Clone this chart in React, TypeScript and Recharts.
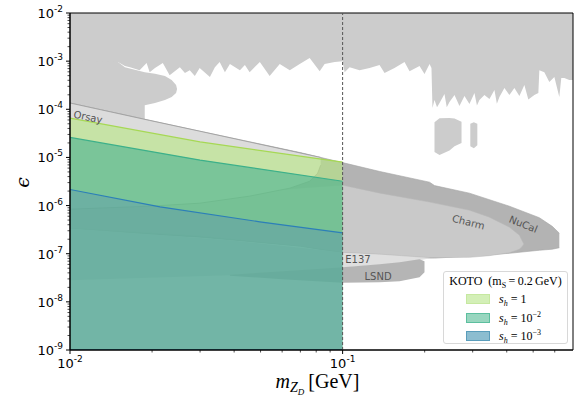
import React from "react";
import {
  ComposedChart,
  Area,
  XAxis,
  YAxis,
  ReferenceLine,
  ReferenceArea,
  ReferenceDot,
  Legend,
} from "recharts";

const X_MIN = 0.01;
const X_MAX = 0.7;
const Y_MIN = 1e-9;
const Y_MAX = 1e-2;

// lower edge of the big exclusion region at the top: [mass GeV, epsilon]
const upperEdge: number[][] = [
  [0.01, 9.1e-4], [0.015, 9.6e-4], [0.0159, 7.9e-4], [0.0166, 7.5e-4], [0.018, 6.5e-4],
  [0.0191, 9.1e-4], [0.0196, 5.9e-4], [0.0205, 7.2e-4], [0.0219, 9.1e-4], [0.0232, 5.1e-4],
  [0.0253, 7.5e-4], [0.0264, 5.65e-4], [0.0275, 6.5e-4], [0.0287, 4.9e-4], [0.0299, 7.2e-4],
  [0.0326, 4.67e-4], [0.034, 7.5e-4], [0.0354, 9.6e-4], [0.037, 5.9e-4], [0.0386, 8.7e-4],
  [0.042, 6.5e-4], [0.0438, 8.3e-4], [0.0456, 5.9e-4], [0.0497, 9.6e-4], [0.054, 4.9e-4],
  [0.0588, 8.7e-4], [0.064, 6.5e-4], [0.0696, 8.7e-4], [0.0757, 1.16e-3], [0.0824, 6.2e-4],
  [0.0859, 8.7e-4], [0.0935, 9.6e-4], [0.1, 1.0e-3], [0.1017, 5.9e-4], [0.1061, 7.5e-4],
  [0.1154, 6.5e-4], [0.1256, 7.2e-4], [0.1366, 8.3e-4], [0.1425, 5.65e-4], [0.155, 7.2e-4],
  [0.1687, 9.6e-4], [0.176, 6.2e-4], [0.1915, 7.9e-4], [0.1997, 5.4e-4], [0.2084, 8.7e-4],
  [0.2118, 7.2e-4], [0.2136, 1.06e-4], [0.2173, 1.55e-4], [0.222, 1.1e-4], [0.2267, 1.35e-4],
  [0.2364, 2.07e-4], [0.241, 1.1e-4], [0.2466, 1.41e-4], [0.2573, 1.97e-4], [0.2683, 1.17e-4],
  [0.2799, 1.88e-4], [0.2919, 1.28e-4], [0.3045, 2.17e-4], [0.311, 1.2e-4], [0.3176, 1.55e-4],
  [0.3313, 1.97e-4], [0.3456, 1.63e-4], [0.3605, 2.51e-4], [0.368, 1.3e-4], [0.376, 1.79e-4],
  [0.3922, 2.76e-4], [0.4091, 1.97e-4], [0.4267, 2.76e-4], [0.4451, 1.88e-4], [0.4642, 3.18e-4],
  [0.48, 1.6e-4], [0.505, 1.97e-4], [0.5224, 2.17e-4], [0.5268, 6.5e-4], [0.5495, 5.9e-4],
  [0.5731, 3.68e-4], [0.598, 4.67e-4], [0.6236, 1.79e-4], [0.634, 4.45e-4], [0.6505, 4.45e-4],
  [0.6785, 4.05e-4], [0.7, 4.05e-4],
];

// [mass, lower eps, upper eps]
const blob: number[][] = [
  [0.01, 1.35e-4, 1.05e-3], [0.0129, 9.9e-5, 1.0e-3], [0.015, 8.2e-5, 9.6e-4],
  [0.0159, 7.6e-5, 7.5e-4], [0.0188, 6.3e-5, 5.9e-4], [0.0188, 1.22e-4, 5.9e-4],
  [0.0205, 1.35e-4, 5.5e-4], [0.0223, 1.55e-4, 4.9e-4], [0.0236, 1.79e-4, 4.05e-4],
  [0.0245, 2.17e-4, 3.18e-4], [0.0247, 2.63e-4, 2.63e-4],
];

const island1: number[][] = [
  [0.2173, 1.3e-5, 5.4e-5], [0.2267, 1.12e-5, 6.5e-5], [0.2466, 1.4e-5, 6.6e-5],
  [0.2573, 1.7e-5, 6.4e-5], [0.273, 2.0e-5, 5.5e-5],
];
const island2: number[][] = [
  [0.294, 1.7e-5, 5.0e-5], [0.303, 1.56e-5, 5.4e-5], [0.312, 1.8e-5, 5.0e-5],
];

const orsay: number[][] = [
  [0.01, 8.4e-7, 1.35e-4], [0.0196, 9.7e-7, 5.87e-5], [0.0299, 1.12e-6, 3.51e-5],
  [0.0456, 1.57e-6, 2.09e-5], [0.064, 2.3e-6, 1.38e-5], [0.0757, 3.2e-6, 1.12e-5],
  [0.081, 4.7e-6, 1.03e-5], [0.0831, 6.9e-6, 1.0e-5],
];

const nucal: number[][] = [
  [0.01, 3.1e-7, 1.35e-4], [0.03, 2.2e-7, 3.5e-5], [0.07, 1.45e-7, 1.26e-5],
  [0.1, 1.02e-7, 7.8e-6], [0.137, 8.9e-8, 5.1e-6], [0.2084, 8.1e-8, 3.06e-6],
  [0.2173, 8.1e-8, 2.6e-6], [0.2919, 8.9e-8, 1.81e-6], [0.4091, 1.02e-7, 9.7e-7],
  [0.5268, 1.18e-7, 5.6e-7], [0.5875, 1.24e-7, 3.7e-7], [0.6236, 1.33e-7, 2.67e-7],
];

const charm: number[][] = [
  [0.01, 3.39e-7, 9.7e-7], [0.03, 2.31e-7, 1.57e-6], [0.07, 1.43e-7, 2.3e-6],
  [0.1, 1.07e-7, 2.65e-6], [0.137, 9.8e-8, 1.81e-6], [0.2084, 8.3e-8, 1.18e-6],
  [0.2919, 8.4e-8, 8.0e-7], [0.3456, 9.1e-8, 5.74e-7], [0.4091, 1.05e-7, 3.56e-7],
  [0.4451, 1.24e-7, 2.43e-7], [0.4563, 1.43e-7, 1.82e-7], [0.462, 1.6e-7, 1.6e-7],
];

const e137: number[][] = [
  [0.01, 2.81e-8, 3.39e-7], [0.0386, 3.57e-8, 1.9e-7], [0.1, 5.2e-8, 1.07e-7],
  [0.1618, 6.3e-8, 9.5e-8], [0.2084, 8.0e-8, 8.3e-8],
];

const lsnd: number[][] = [
  [0.0386, 3.49e-8, 3.66e-8], [0.06, 2.95e-8, 4.33e-8], [0.1, 2.49e-8, 5.24e-8],
  [0.1366, 2.55e-8, 6.05e-8], [0.1618, 2.68e-8, 6.65e-8], [0.1915, 3.24e-8, 7.69e-8],
  [0.1997, 4.12e-8, 7.0e-8],
];

// KOTO bounds
const kotoMassA = [0.01, 0.03, 0.1];
const kotoEpsA = [6.56e-5, 2.1e-5, 8.0e-6];
const kotoMassB = [0.01, 0.03, 0.1];
const kotoEpsB = [2.6e-5, 8.8e-6, 3.2e-6];
const kotoMassC = [0.01, 0.0214, 0.0497, 0.1];
const kotoEpsC = [2.16e-6, 9.4e-7, 4.6e-7, 2.7e-7];

const kotoLabels = ["1", "10", "10"];
const kotoExp = ["", "\u22122", "\u22123"];
const kotoFill = ["#b7e882", "#2da88c", "#5a90b0"];
const kotoOpacity = [0.6, 0.5, 0.38];
const kotoStroke = ["#a6d854", "#3cb08a", "#2c7fb8"];
const kotoPatch = ["#d3efb7", "#98d6bf", "#8cbdd0"];
const kotoPatchEdge = ["#c6e8a0", "#5cbf9f", "#5a9dbb"];

const xMajor = [0.01, 0.1];
const xMinor = [0.02, 0.03, 0.04, 0.05, 0.06, 0.07, 0.08, 0.09, 0.2, 0.3, 0.4, 0.5, 0.6];
const yExps = [-9, -8, -7, -6, -5, -4, -3, -2];
const yMajor = yExps.map((e) => Math.pow(10, e));
const yMinor = yExps.slice(0, -1).flatMap((e) =>
  [2, 3, 4, 5, 6, 7, 8, 9].map((m) => m * Math.pow(10, e))
);

const toRange = (rows: number[][]) => rows.map(([x, lo, hi]) => ({ x, v: [lo, hi] }));
const upperData = upperEdge.map(([x, lo]) => ({ x, v: [lo, Y_MAX] }));
const kotoData = (ms: number[], eps: number[]) => ms.map((x, i) => ({ x, v: [Y_MIN, eps[i]] }));
const kotoSeries = [
  kotoData(kotoMassA, kotoEpsA),
  kotoData(kotoMassB, kotoEpsB),
  kotoData(kotoMassC, kotoEpsC),
];

const TICK_FONT = "'DejaVu Sans', sans-serif";
const SERIF = "'Liberation Serif', 'DejaVu Serif', serif";

const isMajor = (v: number, majors: number[]) => majors.some((m) => Math.abs(v / m - 1) < 1e-6);

const XTick = (props: any) => {
  const { x, y, payload } = props;
  const v = payload.value;
  const major = isMajor(v, xMajor);
  return (
    <g>
      <line x1={x} x2={x} y1={y} y2={y + (major ? 4 : 2.5)} stroke="#000" strokeWidth={major ? 1 : 0.7} />
      {major && (
        <text x={x} y={y + 18} textAnchor="middle" fontFamily={TICK_FONT} fontSize={13} fill="#000">
          10<tspan fontSize={9} dy={-6}>{"-" + Math.round(-Math.log10(v))}</tspan>
        </text>
      )}
    </g>
  );
};

const YTick = (props: any) => {
  const { x, y, payload } = props;
  const v = payload.value;
  const major = isMajor(v, yMajor);
  return (
    <g>
      <line x1={x} x2={x - (major ? 4 : 2.5)} y1={y} y2={y} stroke="#000" strokeWidth={major ? 1 : 0.7} />
      {major && (
        <text x={x - 7} y={y + 5} textAnchor="end" fontFamily={TICK_FONT} fontSize={13} fill="#000">
          10<tspan fontSize={9} dy={-6}>{"-" + Math.round(-Math.log10(v))}</tspan>
        </text>
      )}
    </g>
  );
};

const XLabel = (props: any) => {
  const vb = props.viewBox || { x: 70, y: 350, width: 503 };
  const cx = vb.x + vb.width / 2 - 4;
  const y = vb.y + 38;
  return (
    <text x={cx} y={y} textAnchor="middle" fontFamily={SERIF} fontSize={20} fill="#000">
      <tspan fontStyle="italic">m</tspan>
      <tspan fontStyle="italic" fontSize={14} dy={4}>Z</tspan>
      <tspan fontStyle="italic" fontSize={9} dy={3}>D</tspan>
      <tspan dy={-7}>{"\u2009[GeV]"}</tspan>
    </text>
  );
};

const YLabel = (props: any) => {
  const vb = props.viewBox || { x: 10, y: 13, height: 337 };
  const cx = 22;
  const cy = vb.y + vb.height / 2 + 1;
  return (
    <text
      x={cx}
      y={cy}
      textAnchor="middle"
      dominantBaseline="central"
      fontFamily="'DejaVu Serif', serif"
      fontStyle="italic"
      fontSize={19}
      fill="#000"
      transform={`rotate(-90 ${cx} ${cy})`}
    >
      {"\u03f5"}
    </text>
  );
};

const regionLabel = (text: string, angle: number, size = 10) => (p: any) => (
  <text
    x={p.cx}
    y={p.cy}
    textAnchor="middle"
    dominantBaseline="central"
    fontFamily={TICK_FONT}
    fontSize={size}
    fill="#555"
    transform={`rotate(${angle} ${p.cx} ${p.cy})`}
  >
    {text}
  </text>
);

const subStyle = { fontSize: 8, lineHeight: 0, verticalAlign: "-3px" } as const;
const supStyle = { fontSize: 8, lineHeight: 0, verticalAlign: "5px" } as const;

const KotoLegend = () => (
  <div
    style={{
      position: "relative",
      width: 125,
      height: 73,
      boxSizing: "border-box",
      border: "1px solid #d8d8d8",
      borderRadius: 3,
      background: "rgba(255,255,255,0.85)",
      fontFamily: SERIF,
      fontSize: 12,
      lineHeight: "14px",
      color: "#000",
    }}
  >
    <div style={{ position: "absolute", left: 0, top: 2, width: "100%", textAlign: "center", whiteSpace: "nowrap" }}>
      KOTO&nbsp;&nbsp;(m<span style={subStyle}>S</span>&thinsp;=&thinsp;0.2&thinsp;GeV)
    </div>
    {kotoLabels.map((lab, i) => (
      <div key={i} style={{ position: "absolute", left: 22, top: 21 + i * 18.5, height: 12, display: "flex", alignItems: "center" }}>
        <span
          style={{
            display: "inline-block",
            width: 22,
            height: 8,
            background: kotoPatch[i],
            border: `1px solid ${kotoPatchEdge[i]}`,
          }}
        />
        <span style={{ marginLeft: 9, whiteSpace: "nowrap" }}>
          <i>s</i>
          <i style={subStyle}>h</i>
          {" = " + lab}
          {kotoExp[i] && <span style={supStyle}>{kotoExp[i]}</span>}
        </span>
      </div>
    ))}
  </div>
);

const grey = (rows: number[][], fill: string, stroke = "none", sw = 0) => (
  <Area
    data={toRange(rows)}
    dataKey="v"
    type="linear"
    fill={fill}
    fillOpacity={1}
    stroke={stroke}
    strokeWidth={sw}
    isAnimationActive={false}
    legendType="none"
    dot={false}
    activeDot={false}
  />
);

export default function App() {
  return (
    <div style={{ position: "absolute", left: 0, top: 0, width: 582, height: 407, background: "#fff" }}>
      <ComposedChart width={582} height={407} margin={{ top: 13, right: 9, bottom: 12, left: 10 }}>
        <XAxis
          dataKey="x"
          type="number"
          scale="log"
          domain={[X_MIN, X_MAX]}
          allowDataOverflow
          ticks={[...xMajor, ...xMinor]}
          interval={0}
          tick={<XTick />}
          tickLine={false}
          tickSize={0}
          tickMargin={0}
          height={45}
          axisLine={{ stroke: "#000", strokeWidth: 1 }}
          label={{ content: XLabel }}
        />
        <YAxis
          type="number"
          scale="log"
          domain={[Y_MIN, Y_MAX]}
          allowDataOverflow
          ticks={[...yMajor, ...yMinor]}
          interval={0}
          tick={<YTick />}
          tickLine={false}
          tickSize={0}
          tickMargin={0}
          width={60}
          axisLine={{ stroke: "#000", strokeWidth: 1 }}
          label={{ content: YLabel }}
        />
        <Area
          data={upperData}
          dataKey="v"
          type="linear"
          fill="#cccccc"
          fillOpacity={1}
          stroke="none"
          isAnimationActive={false}
          legendType="none"
          dot={false}
          activeDot={false}
        />
        {grey(blob, "#cccccc")}
        {grey(island1, "#cccccc")}
        {grey(island2, "#cccccc")}
        {grey(nucal, "#b3b3b3", "#a5a5a5", 0.6)}
        {grey(e137, "#dfdfdf")}
        {grey(charm, "#c9c9c9", "#b8b8b8", 0.5)}
        {grey(lsnd, "#b5b5b5")}
        {grey(orsay, "#dcdcdc", "#9a9a9a", 0.8)}
        {kotoSeries.map((d, i) => (
          <Area
            key={i}
            data={d}
            dataKey="v"
            type="linear"
            fill={kotoFill[i]}
            fillOpacity={kotoOpacity[i]}
            stroke={kotoStroke[i]}
            strokeWidth={1.2}
            isAnimationActive={false}
            legendType="none"
            dot={false}
            activeDot={false}
          />
        ))}
        <ReferenceLine x={0.1} stroke="#555" strokeDasharray="3 2" strokeWidth={1} />
        <ReferenceDot x={0.01164} y={6.9e-5} r={0} shape={regionLabel("Orsay", 12)} />
        <ReferenceDot x={0.2894} y={4.52e-7} r={0} shape={regionLabel("Charm", 14)} />
        <ReferenceDot x={0.46} y={4.1e-7} r={0} shape={regionLabel("NuCal", 22)} />
        <ReferenceDot x={0.1138} y={7.7e-8} r={0} shape={regionLabel("E137", 0)} />
        <ReferenceDot x={0.1349} y={3.4e-8} r={0} shape={regionLabel("LSND", 0)} />
        <ReferenceArea x1={X_MIN} x2={X_MAX} y1={Y_MIN} y2={Y_MAX} fill="none" stroke="#000" strokeWidth={1} />
        <Legend
          layout="vertical"
          align="center"
          verticalAlign="middle"
          wrapperStyle={{ left: 443, top: 271, width: 125, height: 73 }}
          content={() => <KotoLegend />}
        />
      </ComposedChart>
    </div>
  );
}
